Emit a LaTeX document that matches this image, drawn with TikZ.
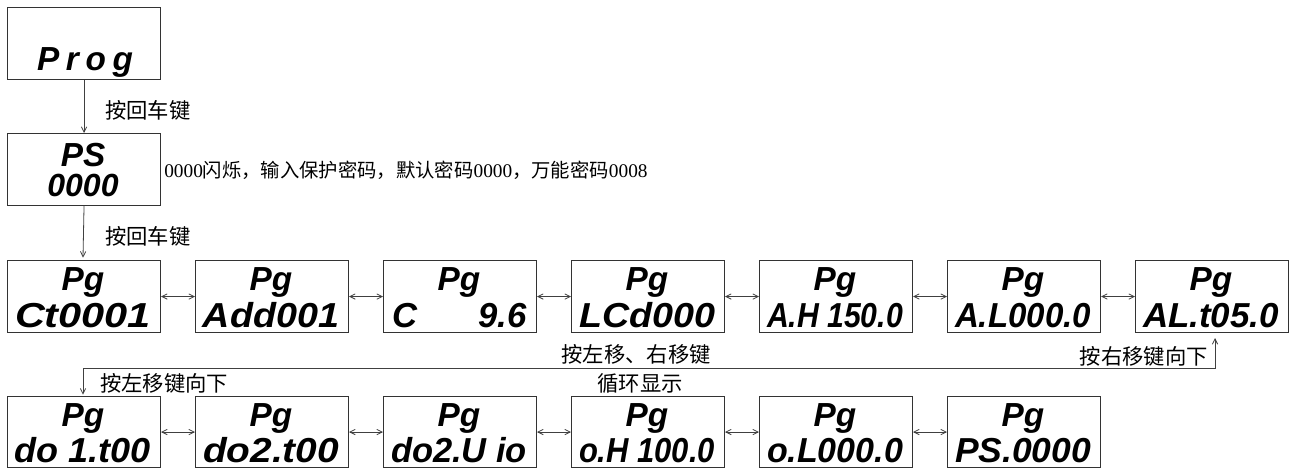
\documentclass[tikz,border=0pt]{standalone}
\usepackage{fontspec}
\usepackage{graphicx}
\setmainfont{Liberation Serif}
\newfontfamily\cjk{Noto Sans CJK SC}
\newfontfamily\seg{Liberation Sans}
\usetikzlibrary{arrows.meta}
\newcommand{\fitline}[1]{\resizebox{102pt}{\height}{#1}}
\tikzset{
  disp/.style={draw=black!80, line width=0.8pt, minimum width=114.75pt, minimum height=54pt, inner sep=0pt, anchor=north west},
  lone/.style={font=\seg\bfseries\itshape\fontsize{25}{25}\selectfont, inner sep=0pt, anchor=base},
  ltwo/.style={font=\seg\bfseries\itshape\fontsize{26}{26}\selectfont, inner sep=0pt, anchor=base},
  lbl/.style={font=\cjk\fontsize{16}{16}\selectfont, inner sep=0pt},
  arr/.style={-{Straight Barb[length=4pt,width=4pt]}, line width=0.6pt, draw=black!75},
  darr/.style={{Straight Barb[length=4pt,width=4pt]}-{Straight Barb[length=4pt,width=4pt]}, line width=0.6pt, draw=black!75}
}
\begin{document}
\begin{tikzpicture}[x=0.75pt,y=-0.75pt]
\useasboundingbox (0,0) rectangle (1291,468);
% top boxes
\node[disp] (b0) at (7,7) {};
\node[lone] (t0) at (85,70) {P\hspace{5pt}r\hspace{5pt}o\hspace{5pt}g};
\node[disp] (b1) at (7,133) {};
\node[lone] (t1a) at (83,166) {PS};
\node[lone, font=\seg\bfseries\itshape\fontsize{24}{24}\selectfont] (t1b) at (83,196) {0000};
\draw[arr] (b0.south) -- (b1.north);
\node[lbl, anchor=west] (l0) at (105,110) {按回车键};
\draw[arr] (b1.south) -- ([yshift=1pt]83,259);
\node[lbl, anchor=west] (l1) at (105,236) {按回车键};
\node[lbl, anchor=west, font=\fontsize{14.5}{14.5}\selectfont] (note) at (164,170) {0000{\cjk 闪烁，输入保护密码，默认密码}0000{\cjk ，万能密码}0008};
% row 3
\foreach \i/\tx in {0/Ct0001,1/Add001,3/LCd000,4/{A.H 150.0},5/{A.L000.0},6/{AL.t05.0}}{
  \node[ltwo] (r\i b) at (83+188*\i,327) {\fitline{\tx}};
}
\foreach \i in {0,...,6}{
  \node[disp] (r\i) at (7+188*\i,260) {};
  \node[lone] (r\i a) at (83+188*\i,290) {Pg};
}
\node[ltwo, anchor=base west] (r2c) at (392,327) {C};
\node[ltwo, anchor=base east] (r2d) at (527,327) {9.6};
\foreach \i [evaluate=\i as \j using int(\i+1)] in {0,...,5}{
  \draw[darr] (r\i.east) -- (r\j.west);
}
% row 4
\foreach \i/\tx in {0/{do 1.t00},1/{do2.t00},2/{do2.U io},3/{o.H 100.0},4/{o.L000.0},5/{PS.0000}}{
  \node[disp, minimum height=53.25pt] (s\i) at (7+188*\i,396) {};
  \node[lone] (s\i a) at (83+188*\i,426) {Pg};
  \node[ltwo] (s\i b) at (83+188*\i,462) {\fitline{\tx}};
}
\foreach \i [evaluate=\i as \j using int(\i+1)] in {0,...,4}{
  \draw[darr] (s\i.east) -- (s\j.west);
}
% feedback loop
\coordinate (fu) at (1215,338);
\coordinate (fr) at (1215,368);
\coordinate (fl) at (83,368);
\draw[darr] (fu) -- (fr) -- (fl) -- ([yshift=1pt]s0.north -| fl);
\node[lbl, anchor=east] (lr) at (1208,356) {按右移键向下};
\node[lbl] (lm) at (636,354) {按左移、右移键};
\node[lbl] (lc) at (640,383) {循环显示};
\node[lbl, anchor=west] (ll) at (100,383) {按左移键向下};
\end{tikzpicture}
\end{document}
